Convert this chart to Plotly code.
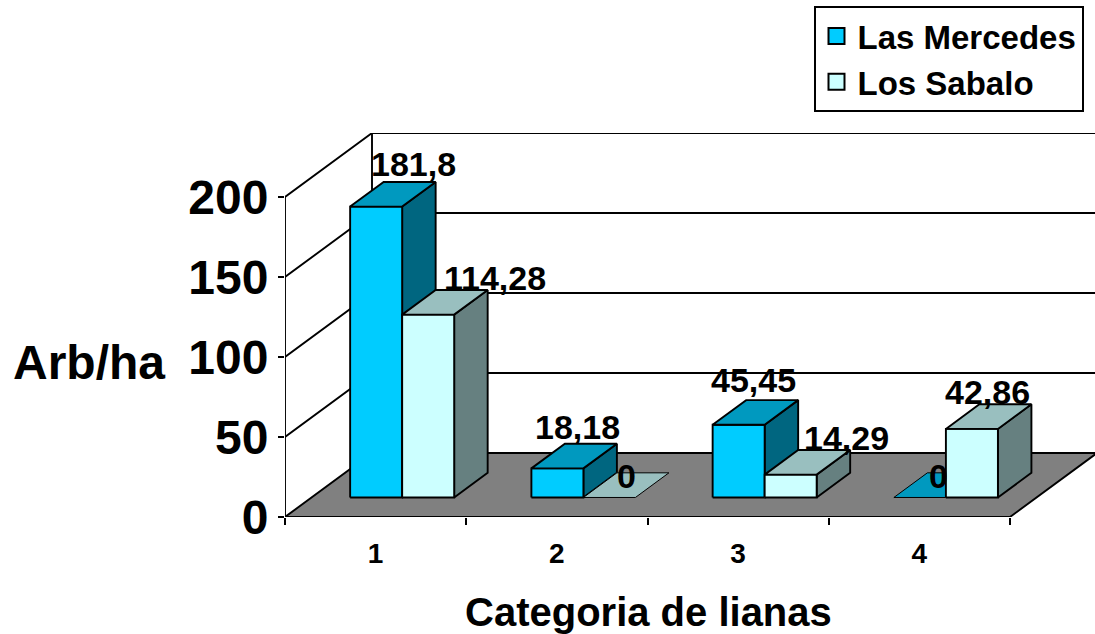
import plotly.graph_objects as go

# Data
categories = [1, 2, 3, 4]
series_names = ["Las Mercedes", "Los Sabalo"]
las_mercedes = [181.8, 18.18, 45.45, 0]
los_sabalo = [114.28, 0, 14.29, 42.86]
value_ticks = [0, 50, 100, 150, 200]

# Oblique projection of the chart box, in axis units
DEPTH_X = 0.48
DEPTH_Y = 40
BAR_WIDTH = 0.287
BAR_FRONT = 0.305
BAR_BACK = 0.69
X_MIN, X_MAX = 0.5, 4.5 + DEPTH_X - 0.011
Y_MAX = 200 + DEPTH_Y

FONT = "Liberation Sans"
EDGE = "#000000"
LINE_W = 1.9

# front, top and side face colours per series
FACES = [
    ("#00CCFF", "#0099BF", "#006680"),
    ("#CCFFFF", "#99BFBF", "#668080"),
]

# pixel nudges of the value labels, relative to the centre of each bar's top
LABEL_SHIFT = [
    [(21, 30), (3, 29), (-2, 32), (2, 9)],
    [(50, 24), (0, 9), (39, 24), (-1, 25)],
]


def project(x, v, depth):
    return x + depth * DEPTH_X, v + depth * DEPTH_Y


def polygon(points, fill=None, width=LINE_W, color=EDGE):
    xs = [p[0] for p in points]
    ys = [p[1] for p in points]
    return go.Scatter(
        x=xs, y=ys, mode="lines", cliponaxis=False, showlegend=False, hoverinfo="skip",
        fill="toself" if fill else None, fillcolor=fill,
        line=dict(color=color, width=width),
    )


fig = go.Figure()

# Walls: gridlines on the back plane and their continuation on the left wall
for v in value_ticks:
    if v > 0:
        fig.add_trace(polygon([project(X_MIN, v, 0), project(X_MIN, v, 1), (X_MAX + 1, v + DEPTH_Y)]))
fig.add_trace(polygon([project(X_MIN, 0, 1), project(X_MIN, 200, 1)]))
fig.add_trace(polygon([(X_MIN, 0), (X_MIN, 200)]))

# Floor
floor_right = 4.5
fig.add_trace(polygon(
    [project(X_MIN, 0, 0), project(X_MIN, 0, 1), project(floor_right, 0, 1),
     project(floor_right, 0, 0), project(X_MIN, 0, 0)],
    fill="#808080",
))

# Bars, one category at a time, first series behind the second
annotations = []
for i, cat in enumerate(categories):
    for s, values in enumerate((las_mercedes, los_sabalo)):
        v = values[i]
        x0 = cat - BAR_WIDTH + s * BAR_WIDTH
        x1 = x0 + BAR_WIDTH
        front_c, top_c, side_c = FACES[s]
        f_bl, f_br = project(x0, 0, BAR_FRONT), project(x1, 0, BAR_FRONT)
        f_tl, f_tr = project(x0, v, BAR_FRONT), project(x1, v, BAR_FRONT)
        b_br = project(x1, 0, BAR_BACK)
        b_tl, b_tr = project(x0, v, BAR_BACK), project(x1, v, BAR_BACK)
        if v > 0:
            fig.add_trace(polygon([f_br, b_br, b_tr, f_tr, f_br], fill=side_c))
            fig.add_trace(polygon([f_bl, f_br, f_tr, f_tl, f_bl], fill=front_c))
            fig.add_trace(polygon([f_tl, f_tr, b_tr, b_tl, f_tl], fill=top_c))
        else:
            fig.add_trace(polygon([f_tl, f_tr, b_tr, b_tl, f_tl], fill=top_c, width=1))
        cx, cy = project((x0 + x1) / 2, v, (BAR_FRONT + BAR_BACK) / 2)
        dx, dy = LABEL_SHIFT[s][i]
        annotations.append(dict(
            x=cx, y=cy, xref="x", yref="y", xshift=dx, yshift=dy, showarrow=False,
            text=str(v).replace(".", ","),
            font=dict(family=FONT, size=34, color="#000000", weight=700),
        ))

# Legend entries
for s, name in enumerate(series_names):
    fig.add_trace(go.Scatter(
        x=[None], y=[None], mode="markers", name=name,
        marker=dict(symbol="square", size=17, color=FACES[s][0], line=dict(color=EDGE, width=2)),
    ))

annotations += [
    dict(xref="paper", yref="paper", x=(89 - 285) / 810, y=(517 - 362) / 384, showarrow=False,
         xanchor="center", yanchor="middle",
         text="Arb/ha", font=dict(family=FONT, size=48, color="#000000", weight=700)),
    dict(xref="paper", yref="paper", x=(648 - 285) / 810, y=(517 - 612) / 384, showarrow=False,
         xanchor="center", yanchor="middle",
         text="Categoria de lianas", font=dict(family=FONT, size=40, color="#000000", weight=700)),
]

fig.update_layout(
    width=1095, height=634,
    margin=dict(l=285, r=0, t=133, b=117, autoexpand=False),
    paper_bgcolor="#FFFFFF", plot_bgcolor="#FFFFFF",
    font=dict(family=FONT, color="#000000"),
    annotations=annotations,
    legend=dict(
        xref="container", yref="container", x=813.5 / 1095, y=1 - 6 / 634,
        xanchor="left", yanchor="top",
        bgcolor="#FFFFFF", bordercolor="#000000", borderwidth=2,
        font=dict(family=FONT, size=33, color="#000000", weight=700),
        itemsizing="trace", itemwidth=32, entrywidth=236, entrywidthmode="pixels",
    ),
    xaxis=dict(
        range=[X_MIN, X_MAX], showgrid=False, zeroline=False, showline=False,
        tickmode="array", tickvals=categories, ticktext=[str(c) for c in categories],
        ticks="", ticklabelstandoff=17,
        tickfont=dict(family=FONT, size=28, color="#000000", weight=700),
        minor=dict(tickmode="array", tickvals=[0.5, 1.5, 2.5, 3.5, 4.5],
                   ticks="outside", ticklen=7, tickwidth=2, tickcolor="#000000", showgrid=False),
    ),
    yaxis=dict(
        range=[0, Y_MAX], showgrid=False, zeroline=False, showline=False,
        tickmode="array", tickvals=value_ticks,
        ticks="outside", ticklen=6, tickwidth=2, tickcolor="#000000",
        ticklabelstandoff=0,
        tickfont=dict(family=FONT, size=48, color="#000000", weight=700),
    ),
)

fig.write_html("out.html", config=dict(displayModeBar=False))
